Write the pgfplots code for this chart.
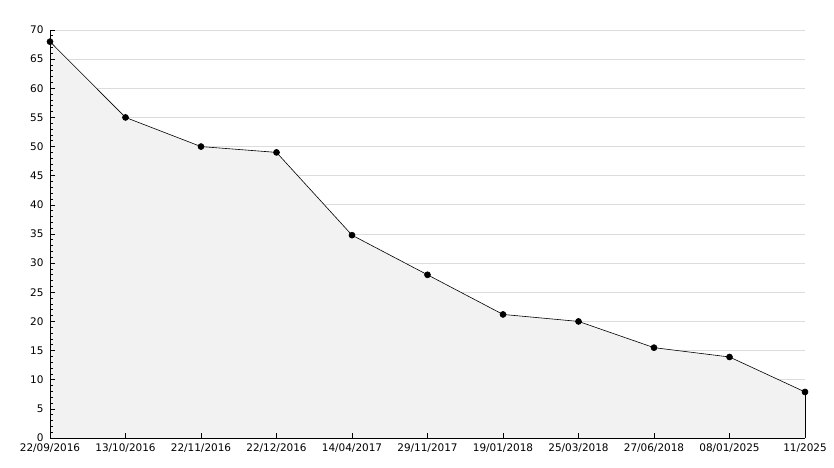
\documentclass[border=0pt]{standalone}
\usepackage{fontspec}
\setmainfont{DejaVu Sans}
\usepackage{pgfplots}
\pgfplotsset{compat=1.18}
\definecolor{gridc}{HTML}{DCDCDC}
\definecolor{fillc}{HTML}{F2F2F2}
\begin{document}
\begin{tikzpicture}
\path[use as bounding box] (-50bp,-30bp) rectangle (784bp,438bp);
\begin{axis}[at={(0,0)},anchor=south west,
  scale only axis, width=755bp, height=408bp,
  xmin=0, xmax=10, ymin=0, ymax=70,
  axis x line=bottom, axis y line=left,
  axis line style={-, black, line width=0.8bp},
  axis on top,
  xtick={0,...,10},
  xticklabels={22/09/2016,13/10/2016,22/11/2016,22/12/2016,14/04/2017,29/11/2017,19/01/2018,25/03/2018,27/06/2018,08/01/2025,11/2025},
  ytick={0,5,...,70},
  minor y tick num=4,
  tick align=inside,
  major tick length=5bp, minor tick length=3bp,
  tick style={black, line width=0.7bp},
  tick label style={font=\fontsize{10.5}{12}\selectfont, black},
  xticklabel style={yshift=-2.5bp},
  yticklabel style={xshift=-3bp},
  /pgf/number format/assume math mode=true,
  clip=false,
]
\pgfplotsinvokeforeach{5,10,...,70}{\draw[gridc, line width=0.9bp] (axis cs:0,#1) -- (axis cs:10,#1);}
\addplot[fill=fillc, draw=none] coordinates {
(0,68)(1,55)(2,50)(3,49)(4,34.8)(5,28)(6,21.2)(7,20)(8,15.5)(9,13.9)(10,7.9)} \closedcycle;
\addplot[black, line width=0.7bp] coordinates {(10,0)(10,7.9)};
\addplot[black, line width=0.6bp, mark=*, mark size=3bp, mark options={fill=black}] coordinates {
(0,68)(1,55)(2,50)(3,49)(4,34.8)(5,28)(6,21.2)(7,20)(8,15.5)(9,13.9)(10,7.9)};
\end{axis}
\end{tikzpicture}
\end{document}
